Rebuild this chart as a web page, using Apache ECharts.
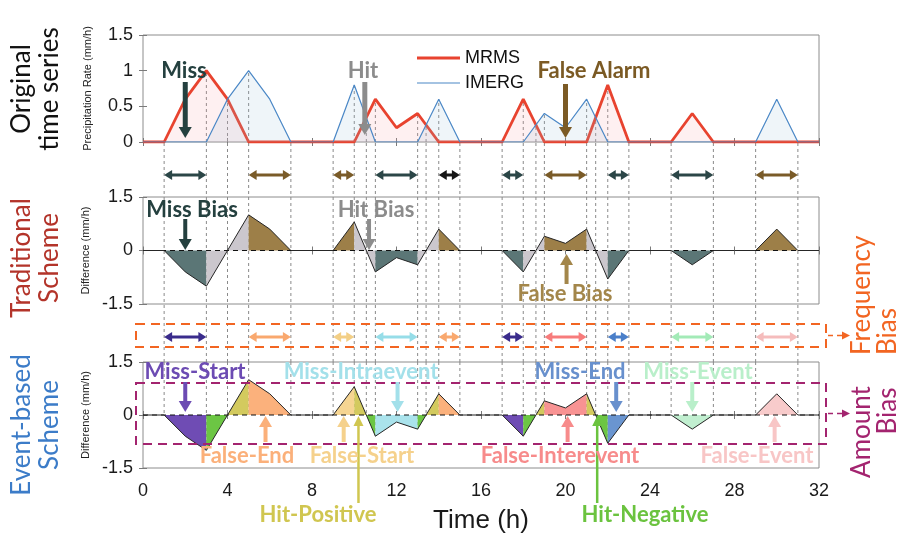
<!DOCTYPE html>
<html>
<head>
<meta charset="utf-8">
<script src="https://cdn.jsdelivr.net/npm/echarts@6/dist/echarts.min.js"></script>
<style>
  html, body { margin: 0; padding: 0; background: #fff; }
  #chart { width: 904px; height: 538px; }
</style>
</head>
<body>
<div id="chart"></div>
<script>
// ---- data ----
const hours = [0,1,2,3,4,5,6,7,8,9,10,11,12,13,14,15,16,17,18,19,20,21,22,23,24,25,26,27,28,29,30,31,32]
const mrms  = [0,0,0.6,1,0.6,0,0,0,0,0,0,0.6,0.2,0.4,0,0,0,0,0.6,0,0,0,0.8,0,0,0,0.4,0,0,0,0,0,0]
const imerg = [0,0,0,0,0.6,1,0.6,0,0,0,0.8,0,0,0,0.6,0,0,0,0,0.4,0.2,0.6,0,0,0,0,0,0,0,0,0.6,0,0]
const seriesNames = ['MRMS', 'IMERG']

// event spans [start, end, class]
const tradSegments = [
  [1,3,'miss'],[3,5,'hit'],[5,7,'false'],[9,10,'false'],[10,11,'hit'],[11,13,'miss'],
  [13,14,'hit'],[14,15,'false'],[17,18,'miss'],[18,19,'hit'],[19,21,'false'],[21,22,'hit'],
  [22,23,'miss'],[25,27,'miss'],[29,31,'false']
]
const eventSegments = [
  [1,3,'Miss-Start'],[3,5,'Hit'],[5,7,'False-End'],[9,10,'False-Start'],[10,11,'Hit'],
  [11,13,'Miss-Intraevent'],[13,14,'Hit'],[14,15,'False-End'],[17,18,'Miss-Start'],[18,19,'Hit'],
  [19,21,'False-Interevent'],[21,22,'Hit'],[22,23,'Miss-End'],[25,27,'Miss-Event'],[29,31,'False-Event']
]

// ---- styles ----
const lineColors = { MRMS: '#e8432f', IMERG: '#4a87c6' }
const lineWidths = { MRMS: 2.8, IMERG: 1.2 }
const tradFill = { miss: '#5b7676', hit: '#cbc7cd', false: '#9d7f48' }
const tradArrow = { miss: '#2b4647', false: '#7a5b28' }
const tradArrowOverride = { 14: '#161616' }
const eventFill = {
  'Miss-Start': '#6f4cb4', 'Hit-Negative': '#6cc644', 'Hit-Positive': '#d3ca5e',
  'False-End': '#fbb17c', 'False-Start': '#f6d592', 'Miss-Intraevent': '#aae3ec',
  'False-Interevent': '#f89393', 'Miss-End': '#6a95d0', 'Miss-Event': '#c1efd0', 'False-Event': '#f8cbcb'
}
const eventArrow = {
  'Miss-Start': '#3a2c8c', 'False-End': '#f9a86e', 'False-Start': '#f3cf86', 'Miss-Intraevent': '#96dde8',
  'False-Interevent': '#f77c7c', 'Miss-End': '#4a7fc9', 'Miss-Event': '#a3eab7', 'False-Event': '#f5bcbc'
}
const AXIS_FONT = 'Liberation Sans'
const LABEL_FONT = 'Lato'

// ---- helpers ----
const diff = hours.map((h, i) => imerg[i] - mrms[i])
const interp = (arr, t) => {
  const h = Math.min(Math.floor(t), arr.length - 2)
  const f = t - h
  return arr[h] * (1 - f) + arr[h + 1] * f
}
const diffAt = t => interp(diff, t)
const topAt = t => Math.max(interp(mrms, t), interp(imerg, t))

// split a hit span where the difference changes sign
const splitHit = (a, b) => {
  const pts = [a]
  for (let h = Math.floor(a) + 1; h < b; h++) pts.push(h)
  pts.push(b)
  const cuts = []
  for (let i = 0; i < pts.length - 1; i++) {
    const p = pts[i], q = pts[i + 1], dp = diffAt(p), dq = diffAt(q)
    if (dp * dq < 0) cuts.push(p + dp / (dp - dq))
    else if (dq === 0 && q < b) cuts.push(q)
  }
  const edges = [a, ...cuts, b]
  const out = []
  for (let i = 0; i < edges.length - 1; i++) {
    const m = diffAt((edges[i] + edges[i + 1]) / 2)
    out.push([edges[i], edges[i + 1], m >= 0 ? 'Hit-Positive' : 'Hit-Negative'])
  }
  return out
}
const eventParts = eventSegments.flatMap(s => s[2] === 'Hit' ? splitHit(s[0], s[1]) : [s])
const boundaries = [...new Set(eventParts.flatMap(s => [s[0], s[1]]))].sort((a, b) => a - b)

const polyPoints = (a, b) => {
  const pts = [[a, 0], [a, diffAt(a)]]
  for (let h = Math.floor(a) + 1; h < b; h++) if (h > a) pts.push([h, diffAt(h)])
  pts.push([b, diffAt(b)], [b, 0])
  return pts
}

const tradArrows = tradSegments.filter(s => s[2] !== 'hit')
  .map(s => [s[0], s[1], tradArrowOverride[s[0]] || tradArrow[s[2]]])
const eventArrows = eventSegments.filter(s => s[2] !== 'Hit')
  .map(s => [s[0], s[1], eventArrow[s[2]]])

// ---- chart ----
const chart = echarts.init(document.getElementById('chart'))

const frameGrid = (top, height) => ({
  left: 143, width: 676, top, height, show: true, borderColor: '#8c8c8c', borderWidth: 1,
  backgroundColor: 'transparent', containLabel: false, outerBoundsMode: 'none'
})
const plainGrid = (top, height) => ({ left: 143, width: 676, top, height, show: false, containLabel: false, outerBoundsMode: 'none' })

const tick = { show: true, inside: true, length: 4, lineStyle: { color: '#7a7a7a' } }
const xMain = (g, labels) => ({
  type: 'value', gridIndex: g, min: 0, max: 32, interval: 4,
  axisLine: { show: false }, axisTick: tick, splitLine: { show: false },
  axisLabel: { show: labels, fontSize: 18, fontFamily: AXIS_FONT, color: '#1a1a1a', margin: 14 },
  name: labels ? 'Time (h)' : '', nameLocation: 'middle', nameGap: 40,
  nameTextStyle: { fontSize: 26, fontFamily: AXIS_FONT, color: '#1a1a1a' }
})
const xMirror = g => ({
  type: 'value', gridIndex: g, position: 'top', min: 0, max: 32, interval: 4,
  axisLine: { show: false }, axisTick: tick, axisLabel: { show: false }, splitLine: { show: false }
})
const yMain = (g, min, max, interval, name) => ({
  type: 'value', gridIndex: g, min, max, interval,
  axisLine: { show: false }, axisTick: tick, splitLine: { show: false },
  axisLabel: { fontSize: 18, fontFamily: AXIS_FONT, color: '#1a1a1a', margin: 10 },
  name, nameLocation: 'middle', nameGap: 50,
  nameTextStyle: { fontSize: 11, fontFamily: AXIS_FONT, color: '#222' }
})
const yMirror = (g, min, max, interval) => ({
  type: 'value', gridIndex: g, position: 'right', min, max, interval,
  axisLine: { show: false }, axisTick: tick, axisLabel: { show: false }, splitLine: { show: false }
})
const hiddenX = g => ({ type: 'value', gridIndex: g, min: 0, max: 32, show: false })
const hiddenY = g => ({ type: 'value', gridIndex: g, min: 0, max: 1, show: false })

const dashStyle = { stroke: '#8a8a8a', lineWidth: 1, lineDash: [3, 3] }
const vLine = (params, api) => {
  const t = api.value(0)
  const p0 = api.coord([t, api.value(1)])
  const p1 = api.coord([t, api.value(2)])
  return { type: 'line', shape: { x1: p0[0], y1: p0[1], x2: p1[0], y2: p1[1] }, style: dashStyle }
}
const fillSeries = (xi, yi, parts, colors) => ({
  type: 'custom', xAxisIndex: xi, yAxisIndex: yi, z: 2, silent: true,
  data: parts.map(s => [s[0], s[1], 0]), encode: { x: [0, 1], y: 2 },
  renderItem: (params, api) => {
    const s = parts[params.dataIndex]
    return {
      type: 'polygon',
      shape: { points: polyPoints(s[0], s[1]).map(p => api.coord(p)) },
      style: { fill: colors[s[2]], stroke: null }
    }
  }
})
const arrowSeries = (xi, yi, list) => ({
  type: 'custom', xAxisIndex: xi, yAxisIndex: yi, z: 5, silent: true,
  data: list.map(a => [a[0], a[1], 0.5]), encode: { x: [0, 1], y: 2 },
  renderItem: (params, api) => {
    const a = list[params.dataIndex]
    const p0 = api.coord([a[0], 0.5]), p1 = api.coord([a[1], 0.5])
    const hl = 8, hw = 5, y = p0[1]
    return {
      type: 'group', children: [
        { type: 'line', shape: { x1: p0[0] + hl - 1, y1: y, x2: p1[0] - hl + 1, y2: y }, style: { stroke: a[2], lineWidth: 3 } },
        { type: 'polygon', shape: { points: [[p0[0], y], [p0[0] + hl, y - hw], [p0[0] + hl, y + hw]] }, style: { fill: a[2] } },
        { type: 'polygon', shape: { points: [[p1[0], y], [p1[0] - hl, y - hw], [p1[0] - hl, y + hw]] }, style: { fill: a[2] } }
      ]
    }
  }
})
const diffLine = (xi, yi) => ({
  type: 'line', xAxisIndex: xi, yAxisIndex: yi, z: 4, symbol: 'none', silent: true,
  data: hours.map((h, i) => [h, diff[i]]), lineStyle: { color: '#262626', width: 1 }
})
const zeroLine = (xi, yi) => ({
  type: 'line', xAxisIndex: xi, yAxisIndex: yi, z: 3, symbol: 'none', silent: true,
  data: [[0, 0], [32, 0]], lineStyle: { color: '#111', width: 1.2, type: [5, 4] }
})

const option = {
  animation: false,
  backgroundColor: '#fff',
  textStyle: { fontFamily: AXIS_FONT },
  grid: [
    frameGrid(35, 107), frameGrid(197, 107), frameGrid(362, 106),
    plainGrid(168, 14), plainGrid(330, 14), plainGrid(142, 220)
  ],
  xAxis: [
    xMain(0, false), xMain(1, false), xMain(2, true),
    xMirror(0), xMirror(1), xMirror(2),
    hiddenX(3), hiddenX(4), hiddenX(5)
  ],
  yAxis: [
    yMain(0, 0, 1.5, 0.5, 'Precipitation Rate (mm/h)'),
    yMain(1, -1.5, 1.5, 1.5, 'Difference (mm/h)'),
    yMain(2, -1.5, 1.5, 1.5, 'Difference (mm/h)'),
    yMirror(0, 0, 1.5, 0.5), yMirror(1, -1.5, 1.5, 1.5), yMirror(2, -1.5, 1.5, 1.5),
    hiddenY(3), hiddenY(4), hiddenY(5)
  ],
  series: [
    // overlay dashed guides through the gaps and middle panel
    { type: 'custom', xAxisIndex: 8, yAxisIndex: 8, z: 1, silent: true,
      data: boundaries.map(t => [t, 0, 1]), encode: { x: 0, y: [1, 2] }, renderItem: vLine },
    // top panel
    { type: 'custom', xAxisIndex: 0, yAxisIndex: 0, z: 1, silent: true,
      data: boundaries.map(t => [t, 0, topAt(t)]), encode: { x: 0, y: [1, 2] }, renderItem: vLine },
    { name: 'MRMS', type: 'line', xAxisIndex: 0, yAxisIndex: 0, z: 2, symbol: 'none',
      data: hours.map((h, i) => [h, mrms[i]]),
      lineStyle: { color: lineColors.MRMS, width: lineWidths.MRMS },
      areaStyle: { color: 'rgba(246,160,165,0.22)' } },
    { name: 'IMERG', type: 'line', xAxisIndex: 0, yAxisIndex: 0, z: 3, symbol: 'none',
      data: hours.map((h, i) => [h, imerg[i]]),
      lineStyle: { color: lineColors.IMERG, width: lineWidths.IMERG },
      areaStyle: { color: 'rgba(150,190,215,0.22)' } },
    // traditional scheme
    fillSeries(1, 1, tradSegments, tradFill),
    zeroLine(1, 1),
    diffLine(1, 1),
    // event-based scheme
    { type: 'custom', xAxisIndex: 2, yAxisIndex: 2, z: 1, silent: true,
      data: boundaries.map(t => [t, 1.5, Math.min(0, diffAt(t))]), encode: { x: 0, y: [1, 2] }, renderItem: vLine },
    fillSeries(2, 2, eventParts, eventFill),
    zeroLine(2, 2),
    diffLine(2, 2),
    // event span arrows
    arrowSeries(6, 6, tradArrows),
    arrowSeries(7, 7, eventArrows)
  ]
}
chart.setOption(option)

// ---- annotations ----
const notes = [
  ['Miss', 184, 71, 2.0, 82, 138, '#24403f', 5],
  ['Hit', 363, 71, 10.5, 82, 135, '#8c8c8c', 5],
  ['False Alarm', 594, 71, 20.0, 84, 138, '#7b5a24', 5],
  ['Miss Bias', 192, 210, 2.0, 219, 250, '#24403f', 4],
  ['Hit Bias', 376, 210, 10.7, 219, 250, '#8c8c8c', 4],
  ['False Bias', 565, 294, 20.05, 284, 254, '#a3864a', 4],
  ['Miss-Start', 195, 372, 2.0, 382, 412, '#6c4bb3', 4],
  ['Miss-Intraevent', 361, 372, 12.05, 382, 412, '#a3e0ea', 4],
  ['Miss-End', 580, 372, 22.4, 382, 412, '#6890cd', 4],
  ['Miss-Event', 698, 372, 26.0, 382, 412, '#b9efca', 4],
  ['False-End', 247, 456, 5.8, 442, 416, '#fbb07a', 4],
  ['False-Start', 362, 456, 9.5, 442, 416, '#f5d18c', 4],
  ['False-Interevent', 560, 456, 20.1, 442, 416, '#f78b8b', 4],
  ['False-Event', 757, 456, 29.9, 442, 416, '#f8c6c6', 4],
  ['Hit-Positive', 318, 515, 10.2, 503, 416, '#d0c650', 2.5],
  ['Hit-Negative', 645, 515, 21.5, 503, 416, '#6bc33f', 2.5]
]

const graphics = []
notes.forEach(n => {
  const [text, tx, ty, hx, y0, y1, color, w] = n
  const ax = chart.convertToPixel({ xAxisIndex: 0 }, hx)
  const dir = y1 > y0 ? 1 : -1
  const hl = w >= 4 ? 11 : 10, hw = w >= 4 ? 6.5 : 5
  graphics.push(
    { type: 'line', z: 20, shape: { x1: ax, y1: y0, x2: ax, y2: y1 - dir * (hl - 1) }, style: { stroke: color, lineWidth: w } },
    { type: 'polygon', z: 20, shape: { points: [[ax - hw, y1 - dir * hl], [ax + hw, y1 - dir * hl], [ax, y1]] }, style: { fill: color } },
    { type: 'text', z: 21, x: tx, y: ty, style: {
      text, fill: color, font: 'bold 22px ' + LABEL_FONT,
      align: 'center', verticalAlign: 'middle', textAlign: 'center', textVerticalAlign: 'middle' } }
  )
})

// legend drawn as line samples so the widths match the series
seriesNames.forEach((name, i) => {
  const y = 58 + i * 25
  graphics.push(
    { type: 'line', z: 20, shape: { x1: 417, y1: y, x2: 460, y2: y },
      style: { stroke: lineColors[name], lineWidth: lineWidths[name] } },
    { type: 'text', z: 20, x: 465, y, style: { text: name, fill: '#111', font: '18px ' + AXIS_FONT,
      align: 'left', verticalAlign: 'middle', textAlign: 'left', textVerticalAlign: 'middle' } }
  )
})

const sideText = (text, x, y, color, align) => ({
  type: 'text', z: 21, x, y, rotation: Math.PI / 2,
  style: { text, fill: color, font: '26px ' + LABEL_FONT, lineHeight: 28,
    align, verticalAlign: 'middle', textAlign: align, textVerticalAlign: 'middle' }
})
graphics.push(
  sideText('Original\ntime series', 36, 89, '#111111', 'center'),
  sideText('Traditional\nScheme', 36, 258, '#b3342a', 'center'),
  sideText('Event-based\nScheme', 36, 425, '#3c7cc8', 'center'),
  sideText('Frequency', 862, 355, '#f26522', 'left'),
  sideText('Bias', 888, 355, '#f26522', 'left'),
  sideText('Amount', 862, 432, '#a3246f', 'center'),
  sideText('Bias', 888, 411, '#a3246f', 'center')
)

const dashedBox = (y, h, color) => [
  { type: 'rect', z: 15, shape: { x: 136, y, width: 690, height: h },
    style: { fill: null, stroke: color, lineWidth: 2, lineDash: [9, 6] } },
  { type: 'line', z: 15, shape: { x1: 828, y1: y + h / 2, x2: 842, y2: y + h / 2 },
    style: { stroke: color, lineWidth: 1.5, lineDash: [5, 4] } },
  { type: 'polygon', z: 15, shape: { points: [[842, y + h / 2 - 4], [842, y + h / 2 + 4], [850, y + h / 2]] },
    style: { fill: color } }
]
graphics.push(...dashedBox(324, 23, '#f26522'), ...dashedBox(383, 61, '#a3246f'))

chart.setOption({ graphic: graphics })
</script>
</body>
</html>
